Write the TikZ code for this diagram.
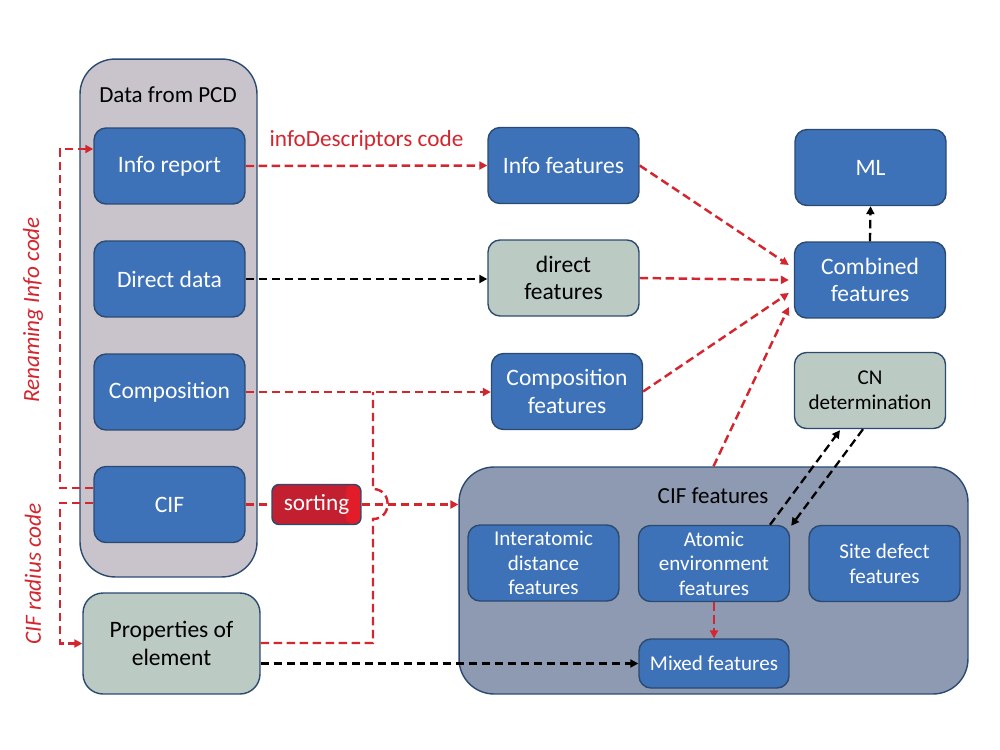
\documentclass[tikz,border=0pt]{standalone}
\usepackage{fontspec}
\setmainfont{Carlito}
\usetikzlibrary{arrows.meta}
\definecolor{boxblue}{HTML}{3D71B8}
\definecolor{edgeblue}{HTML}{2B4A70}
\definecolor{pcdgray}{HTML}{C9C4CC}
\definecolor{sage}{HTML}{BCCAC4}
\definecolor{cifgray}{HTML}{8E9AB1}
\definecolor{myred}{HTML}{D3262E}
\definecolor{sortred}{HTML}{C22030}
\definecolor{sortbright}{HTML}{E21C28}
\begin{document}
\begin{tikzpicture}[x=0.02cm,y=-0.02cm,
  base/.style={draw=edgeblue, line width=0.8pt, rounded corners=0.24cm, minimum width=3.02cm, minimum height=1.52cm, align=center, inner sep=1pt},
  bluebox/.style={base, fill=boxblue, text=white, font=\fontsize{13.4}{15.5}\selectfont},
  sagebox/.style={base, fill=sage, text=black, font=\fontsize{13.4}{15.5}\selectfont},
  smallblue/.style={bluebox, font=\fontsize{12}{14}\selectfont},
  smallsage/.style={sagebox, font=\fontsize{12}{14}\selectfont},
  container/.style={draw=edgeblue, line width=0.8pt, rounded corners=0.7cm, inner sep=0pt},
  reddash/.style={draw=myred, line width=1.4pt, dash pattern=on 4.8pt off 2.6pt},
  redarrow/.style={reddash, -{Triangle[length=4.5pt,width=4.5pt]}},
  blackarrow/.style={draw=black, line width=1.3pt, dash pattern=on 4.8pt off 2.6pt, -{Triangle[length=4.5pt,width=4.5pt]}},
  title/.style={font=\fontsize{13.1}{15}\selectfont, text=black},
  redlabel/.style={font=\fontsize{13.2}{15}\selectfont\itshape, text=myred}
]
\useasboundingbox (0,0) rectangle (1000,750);

% containers
\node[container, fill=pcdgray, minimum width=3.54cm, minimum height=10.36cm] (pcd) at (168.5,318) {};
\node[title] (pcdtitle) at (168,95) {Data from PCD};
\node[container, fill=cifgray, minimum width=10.18cm, minimum height=4.54cm] (cifbox) at (713.5,580.5) {};
\node[title] (ciftitle) at (713,496) {CIF features};

% left column
\node[bluebox] (info) at (169.5,166) {Info report};
\node[bluebox] (direct) at (169.5,279) {Direct data};
\node[bluebox] (compo) at (169.5,392) {Composition};
\node[bluebox] (cif) at (169.5,504.5) {CIF};
\node[sagebox, minimum width=3.54cm, minimum height=2.02cm, rounded corners=0.4cm] (props) at (171.5,643.5) {Properties of\\element};

% middle column
\node[bluebox] (infof) at (563.5,165.5) {Info features};
\node[sagebox] (dirf) at (563.5,278) {direct\\features};
\node[bluebox] (compf) at (567,391.5) {Composition\\features};

% right column
\node[bluebox] (ml) at (870.5,167.5) {ML};
\node[bluebox] (comb) at (870,280) {Combined\\features};
\node[smallsage] (cn) at (870,390.5) {CN\\determination};

% CIF features content
\node[smallblue] (inter) at (543.5,563) {Interatomic\\distance\\features};
\node[smallblue] (atomic) at (714,563.5) {Atomic\\environment\\features};
\node[smallblue] (site) at (884.5,563.5) {Site defect\\features};
\node[smallblue, minimum width=3.0cm, minimum height=0.98cm] (mixed) at (714,663.5) {Mixed features};

% connectors: left column to middle
\draw[redarrow] (info.east) -- (infof.west) node[midway, above=5pt, font=\fontsize{13.2}{15}\selectfont, text=myred] (infolabel) {infoDescriptors code};
\draw[blackarrow] (direct.east) -- (direct.east -| dirf.west);
\draw[redarrow] (compo.east) -- (compo.east -| compf.west);
\draw[reddash] (props.east |- 0,643) -- (373,643) -- (373,519) .. controls (392.5,519) and (392.5,489) .. (373,489) -- (373,392);
\draw[reddash] (cif.east) -- (272,504.5);

% sorting
\node[draw=edgeblue, line width=0.8pt, rounded corners=0.14cm, minimum width=1.78cm, minimum height=0.8cm, inner sep=1pt, text=white, font=\fontsize{13.2}{15}\selectfont,
  path picture={\fill[sortred] (path picture bounding box.south west) rectangle (path picture bounding box.north east);
                \fill[sortbright] ([xshift=-0.3cm]path picture bounding box.south east) rectangle (path picture bounding box.north east);}] (sorting) at (316.5,504.5) {sorting};
\draw[redarrow] (sorting.east) -- (sorting.east -| cifbox.west);

% props to mixed
\draw[blackarrow] (props.east |- mixed.west) -- (mixed.west);

% left loops
\draw[redarrow] ([shift={(0,-16.5)}]cif.west) -- (60,488) -- (60,149) -- ([shift={(0,-17)}]info.west);
\draw[redarrow] ([shift={(0,-1.5)}]cif.west) -- (60,503) -- (60,643.5) -- (props.west);
\node[redlabel, rotate=90] (renlabel) at (33,310) {Renaming Info code};
\node[redlabel, rotate=90] (radlabel) at (33,574) {CIF radius code};

% to combined
\draw[redarrow] (infof.east) -- ([shift={(-5,-15)}]comb.west);
\draw[redarrow] (dirf.east) -- ([shift={(-5,0)}]comb.west);
\draw[redarrow] (compf.east) -- ([shift={(-5,13)}]comb.west);
\draw[redarrow] (cifbox.north) -- ([shift={(-5,27)}]comb.west);
\draw[blackarrow] (comb.north) -- (ml.south);

% CN and atomic
\draw[blackarrow] ([shift={(56,0)}]atomic.north) -- ([shift={(-30,1)}]cn.south);
\draw[blackarrow] ([shift={(-7,0)}]cn.south) -- ([shift={(1,1)}]atomic.north east);
\draw[redarrow] (atomic.south) -- (mixed.north);
\end{tikzpicture}
\end{document}
